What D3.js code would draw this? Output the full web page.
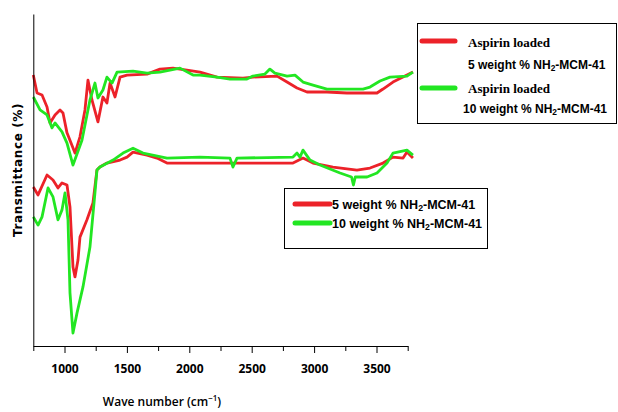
<!DOCTYPE html>
<html>
  <head>
    <meta charset="utf-8">
    <title>FTIR spectra</title>
    <script type="text/javascript" src="https://cdn.jsdelivr.net/npm/d3@7/dist/d3.min.js"></script>
    <style>
    body { margin:0; background:#ffffff; }
    .axis path, .axis line { stroke:#000000; }
    .axis text { font-family:"Open Sans", "Liberation Sans", sans-serif; font-weight:bold; font-size:12px; fill:#000; }
    .lbl-sans { font-family:"Liberation Sans", sans-serif; font-weight:bold; }
    .lbl-serif { font-family:"Liberation Serif", serif; font-weight:bold; }
    </style>
  </head>
  <body>
    <div id="chart"></div>
    <script type="text/javascript">
// wave numbers (cm-1) and transmittance
const wnRedTop   = [750,780,820,860,884,924,964,988,1020,1084,1124,1164,1188,1220,1268,1308,1340,1365,1405,1445,1501,1661,1765,1869,1981,2086,2222,2430,2510,2703,2783,2863,2943,3103,3263,3504,3552,3632,3744,3792];
const tRedTop    = [81.6,76.2,75.6,72.0,67.2,69.6,71.1,70.2,64.2,58.1,63.0,71.1,80.1,74.1,67.5,75.0,73.2,79.2,75.0,81.0,81.6,81.9,83.4,83.7,83.1,82.5,81.0,80.7,81.0,81.3,79.5,77.7,76.5,76.5,76.2,76.2,77.4,79.5,81.6,82.5];
const wnGreenTop = [750,804,860,900,924,980,1020,1068,1140,1204,1244,1268,1308,1340,1381,1421,1549,1661,1765,1925,2030,2086,2222,2326,2462,2510,2606,2646,2686,2783,2847,2911,2991,3103,3208,3392,3448,3528,3608,3744,3792];
const tGreenTop  = [75.0,71.1,69.6,65.7,67.2,64.5,61.1,54.5,62.0,74.1,79.2,74.7,77.1,81.0,79.2,82.5,82.8,82.2,82.5,83.7,81.6,81.6,81.0,80.4,80.4,81.3,81.9,83.4,82.2,81.3,81.6,79.5,78.6,77.4,77.4,77.4,78.0,79.8,81.0,81.3,82.5];
const wnRedBot   = [750,788,860,908,948,980,1020,1044,1068,1084,1108,1124,1180,1228,1260,1284,1340,1445,1501,1549,1661,1741,1821,2086,2831,2911,2991,3151,3343,3448,3552,3632,3713,3744,3792];
const tRedBot    = [47.9,45.5,51.5,50.0,47.6,49.1,48.5,41.9,23.8,20.8,25.9,32.8,38.0,43.1,53.0,53.9,55.1,56.0,56.9,58.4,57.5,56.6,55.1,55.1,55.1,56.6,55.1,53.9,53.0,53.6,55.1,56.9,56.6,58.4,56.6];
const wnGreenBot = [750,788,820,868,908,948,980,1004,1028,1044,1068,1100,1148,1204,1244,1260,1284,1389,1469,1549,1629,1821,2086,2326,2350,2382,2831,2863,2887,2911,2967,3047,3208,3300,3315,3330,3424,3504,3584,3632,3744,3792];
const tGreenBot  = [38.9,36.4,38.9,47.6,44.9,38.0,41.0,46.1,38.0,16.0,3.9,9.9,17.8,29.8,46.1,53.0,53.9,56.0,58.1,59.6,58.1,56.6,56.9,56.6,53.9,56.6,56.9,58.1,56.9,59.0,56.0,54.5,52.1,50.9,48.5,50.9,50.9,52.1,55.1,58.1,59.0,57.5];
const xTicks = [750,1000,1250,1500,1750,2000,2250,2500,2750,3000,3250,3500,3750];

const RED = "#ec2229", GREEN = "#22e622";
const width = 618, height = 412;
const svg = d3.select("#chart").append("svg").attr("width", width).attr("height", height);

const x = d3.scaleLinear().domain([750, 3750]).range([33.3, 407.7]);
const y = d3.scaleLinear().domain([0, 100]).range([346, 14]);
const line = d3.line().x(d => x(d[0])).y(d => y(d[1]));

// spectra
const series = [
  [wnRedTop, tRedTop, RED], [wnGreenTop, tGreenTop, GREEN],
  [wnRedBot, tRedBot, RED], [wnGreenBot, tGreenBot, GREEN]
];
series.forEach(s => {
  svg.append("path").datum(d3.zip(s[0], s[1]))
    .attr("fill", "none").attr("stroke", s[2]).attr("stroke-width", 2.8)
    .attr("stroke-linejoin", "round").attr("d", line);
});

// axes
const xAxis = svg.append("g").attr("class", "axis").attr("transform", "translate(0,346)")
  .call(d3.axisBottom(x).tickValues(xTicks).tickSize(6).tickSizeOuter(0).tickPadding(12)
    .tickFormat(d => (d % 500 === 0 && d > 750) ? d : ""));
xAxis.selectAll(".tick line").attr("y2", d => d % 500 === 0 ? 7 : 5);
svg.append("g").attr("class", "axis").attr("transform", "translate(33.3,0)")
  .call(d3.axisLeft(y).ticks(0).tickSizeOuter(0));

svg.append("text").attr("transform", "translate(22,170) rotate(-90)")
  .attr("text-anchor", "middle").attr("font-family", "DejaVu Sans").attr("font-weight", "bold")
  .attr("font-size", 12).attr("letter-spacing", 0.6).text("Transmittance (%)");
const xl = svg.append("text").attr("x", 162).attr("y", 406)
  .attr("text-anchor", "middle").attr("font-family", "Open Sans").attr("font-weight", 600)
  .attr("font-size", 12).text("Wave number (cm");
xl.append("tspan").attr("dy", -5).attr("font-size", 8).text("\u22121");
xl.append("tspan").attr("dy", 5).text(")");

// legend: aspirin loaded
const lg1 = svg.append("g");
lg1.append("rect").attr("x", 417.5).attr("y", 23.5).attr("width", 199).attr("height", 100)
  .attr("fill", "#fff").attr("stroke", "#000");
lg1.append("line").attr("x1", 422).attr("x2", 455).attr("y1", 41).attr("y2", 41).attr("stroke", RED).attr("stroke-width", 5).attr("stroke-linecap", "round");
lg1.append("line").attr("x1", 422).attr("x2", 455).attr("y1", 88).attr("y2", 88).attr("stroke", GREEN).attr("stroke-width", 5).attr("stroke-linecap", "round");
lg1.append("text").attr("class", "lbl-serif").attr("x", 468).attr("y", 47).attr("font-size", 13).text("Aspirin loaded");
lg1.append("text").attr("class", "lbl-serif").attr("x", 468).attr("y", 93).attr("font-size", 13).text("Aspirin loaded");
function nhLabel(g, xx, yy, pre, fs) {
  const t = g.append("text").attr("class", "lbl-sans").attr("x", xx).attr("y", yy).attr("font-size", fs).text(pre + "NH");
  t.append("tspan").attr("font-size", fs * 0.7).attr("dy", 2).text("2");
  t.append("tspan").attr("dy", -2).text("-MCM-41");
}
nhLabel(lg1, 468, 69, "5 weight % ", 12);
nhLabel(lg1, 463, 113, "10 weight % ", 12);

// legend: carriers
const lg2 = svg.append("g");
lg2.append("rect").attr("x", 284.5).attr("y", 188.5).attr("width", 203).attr("height", 60)
  .attr("fill", "#fff").attr("stroke", "#000");
lg2.append("line").attr("x1", 295).attr("x2", 330).attr("y1", 204).attr("y2", 204).attr("stroke", RED).attr("stroke-width", 5).attr("stroke-linecap", "round");
lg2.append("line").attr("x1", 295).attr("x2", 330).attr("y1", 223).attr("y2", 223).attr("stroke", GREEN).attr("stroke-width", 5).attr("stroke-linecap", "round");
nhLabel(lg2, 332, 209, "5 weight % ", 12.5);
nhLabel(lg2, 332, 228, "10 weight % ", 12.5);
    </script>
  </body>
</html>
